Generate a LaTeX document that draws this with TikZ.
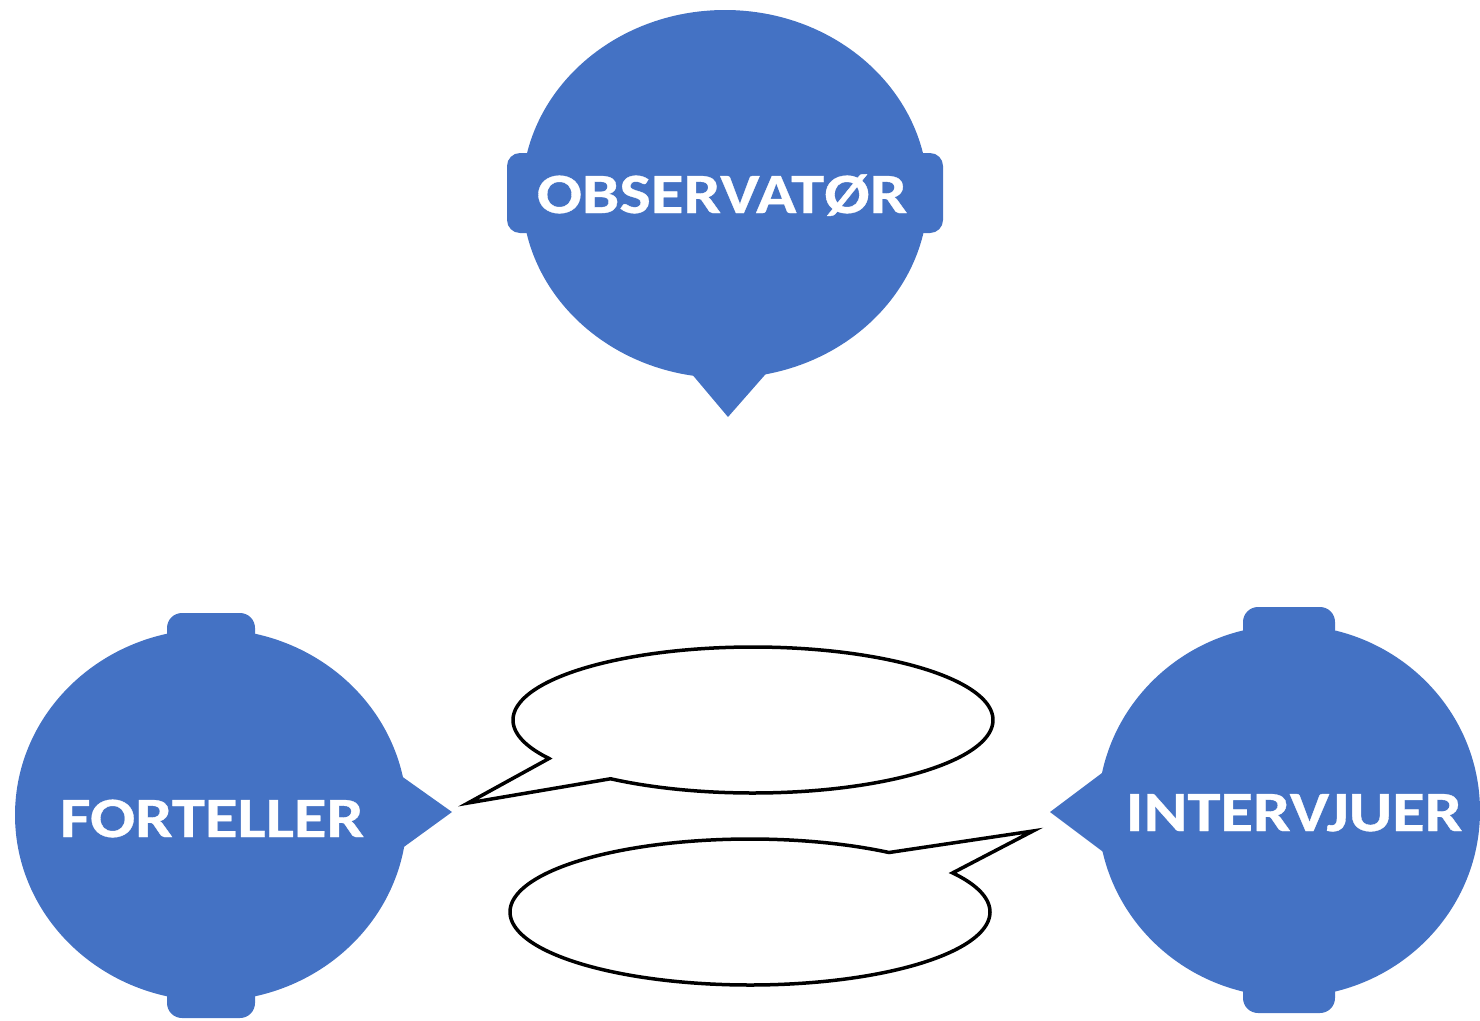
\documentclass[tikz,border=0pt]{standalone}
\usepackage{fontspec}
\setmainfont{Carlito}
\newfontfamily\lblfont[FakeStretch=1.17, FakeBold=0.6]{Carlito}
\definecolor{headblue}{HTML}{4472C4}
\begin{document}
\begin{tikzpicture}[x=1pt,y=-1pt,
  headfill/.style={fill=headblue, draw=none},
  bubble/.style={draw=black, fill=white, line width=3.5pt, line join=miter},
  lbl/.style={text=white, font=\lblfont\fontsize{57}{60}\selectfont\bfseries, inner sep=0pt, anchor=base}]
\useasboundingbox (0,0) rectangle (1480,1020);

% ---------- OBSERVATOR head ----------
\fill[headfill] (725,194) ellipse [x radius=203pt, y radius=184pt];
\fill[headfill, rounded corners=13pt] (507,153) rectangle (545,233);
\fill[headfill, rounded corners=13pt] (905,153) rectangle (943,233);
\fill[headfill] (680,360) -- (728,417) -- (778,360) -- cycle;
\node[lbl] (obs) at (722,213) {OBSERVATØR};

% ---------- FORTELLER head ----------
\fill[headfill] (211,815) ellipse [x radius=196pt, y radius=186pt];
\fill[headfill, rounded corners=15pt] (167,613) rectangle (255,650);
\fill[headfill, rounded corners=15pt] (167,980) rectangle (255,1018);
\fill[headfill] (390,768) -- (452,812) -- (390,857) -- cycle;
\node[lbl] (fort) at (212,837) {FORTELLER};

% ---------- INTERVJUER head ----------
\fill[headfill] (1289,811) ellipse [x radius=191pt, y radius=186pt];
\fill[headfill, rounded corners=15pt] (1243,607) rectangle (1335,645);
\fill[headfill, rounded corners=15pt] (1243,976) rectangle (1335,1013);
\fill[headfill] (1110,767) -- (1050,812) -- (1110,857) -- cycle;
\node[lbl] (int) at (1294,831) {INTERVJUER};

% ---------- speech bubbles ----------
\coordinate (ubnotch) at ({753+240*cos(148.2)},{720+73*sin(148.2)});
\coordinate (ubtip)   at (468,803);
\coordinate (ubback)  at ({753+240*cos(126.4)},{720+73*sin(126.4)});
\draw[bubble] (ubnotch) -- (ubtip) -- (ubback)
  -- plot[domain=126.4:-211.8, samples=240] ({753+240*cos(\x)},{720+73*sin(\x)}) -- cycle;

\coordinate (lbnotch) at ({750+240*cos(-32.4)},{912+73*sin(-32.4)});
\coordinate (lbtip)   at (1033,831);
\coordinate (lbback)  at ({750+240*cos(-54.6)},{912+73*sin(-54.6)});
\draw[bubble] (lbnotch) -- (lbtip) -- (lbback)
  -- plot[domain=-54.6:-392.4, samples=240] ({750+240*cos(\x)},{912+73*sin(\x)}) -- cycle;
\end{tikzpicture}
\end{document}
